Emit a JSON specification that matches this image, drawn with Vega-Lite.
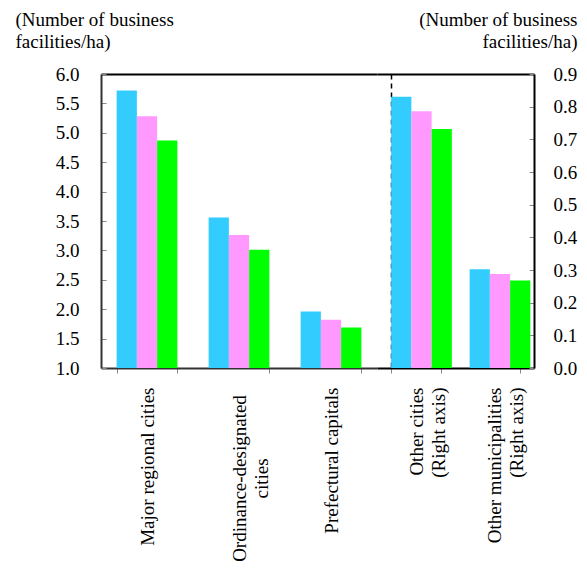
{
  "$schema": "https://vega.github.io/schema/vega-lite/v6.json",
  "padding": {"left": 15, "top": 10, "right": 5, "bottom": 0},
  "background": "white",
  "spacing": 0,
  "bounds": "flush",
  "config": {
    "view": {"stroke": null},
    "font": "Liberation Serif",
    "axis": {"labelFont": "Liberation Serif", "titleFont": "Liberation Serif", "labelColor": "black", "titleColor": "black"}
  },
  "datasets": {
    "left": [
      {"category": "Major regional cities", "series": "Series 1", "value": 5.72},
      {"category": "Major regional cities", "series": "Series 2", "value": 5.28},
      {"category": "Major regional cities", "series": "Series 3", "value": 4.87},
      {"category": "Ordinance-designated|cities", "series": "Series 1", "value": 3.56},
      {"category": "Ordinance-designated|cities", "series": "Series 2", "value": 3.26},
      {"category": "Ordinance-designated|cities", "series": "Series 3", "value": 3.01},
      {"category": "Prefectural capitals", "series": "Series 1", "value": 1.96},
      {"category": "Prefectural capitals", "series": "Series 2", "value": 1.82},
      {"category": "Prefectural capitals", "series": "Series 3", "value": 1.69}
    ],
    "right": [
      {"category": "Other cities|(Right axis)", "series": "Series 1", "value": 0.83},
      {"category": "Other cities|(Right axis)", "series": "Series 2", "value": 0.786},
      {"category": "Other cities|(Right axis)", "series": "Series 3", "value": 0.732},
      {"category": "Other municipalities|(Right axis)", "series": "Series 1", "value": 0.302},
      {"category": "Other municipalities|(Right axis)", "series": "Series 2", "value": 0.288},
      {"category": "Other municipalities|(Right axis)", "series": "Series 3", "value": 0.268}
    ]
  },
  "hconcat": [
    {
      "width": 276,
      "height": 294,
      "data": {"name": "left"},
      "mark": {"type": "bar", "clip": true},
      "encoding": {
        "x": {
          "field": "category", "type": "nominal", "sort": null,
          "scale": {"paddingInner": 0.34, "paddingOuter": 0.17},
          "axis": {
            "orient": "bottom", "title": null, "labelAngle": -90,
            "labelExpr": "split(datum.label, '|')",
            "labelFontSize": 19, "labelLineHeight": 22, "labelLimit": 400,
            "labelAlign": {"condition": {"test": "datum.value == 'Ordinance-designated|cities'", "value": "center"}, "value": "right"},
            "labelBaseline": "middle",
            "labelPadding": {"condition": {"test": "datum.value == 'Ordinance-designated|cities'", "value": 105}, "value": 14},
            "tickBand": "extent", "tickSize": 5, "tickColor": "#888888",
            "domainColor": "#333333", "domainWidth": 2,
            "grid": false
          }
        },
        "xOffset": {"field": "series", "sort": null},
        "y": {
          "field": "value", "type": "quantitative",
          "scale": {"domain": [1, 6], "nice": false, "zero": false},
          "axis": {
            "orient": "left",
            "values": [1, 1.5, 2, 2.5, 3, 3.5, 4, 4.5, 5, 5.5, 6],
            "format": ".1f", "labelFontSize": 19,
            "tickSize": -5, "tickColor": "#888888", "labelPadding": 27,
            "domainColor": "#333333", "domainWidth": 2,
            "grid": true, "gridWidth": 2, "gridOpacity": 1,
            "gridColor": {"condition": {"test": "datum.value >= 5.99", "value": "black"}, "value": "transparent"},
            "title": ["(Number of business", "facilities/ha)"],
            "titleAngle": 0, "titleAlign": "left", "titleBaseline": "alphabetic",
            "titleX": -86, "titleY": -49, "titleFontSize": 19, "titleFontWeight": "normal", "titleLineHeight": 22
          }
        },
        "color": {
          "field": "series", "type": "nominal", "sort": null,
          "scale": {"domain": ["Series 1", "Series 2", "Series 3"], "range": ["#33CCFF", "#FF99FF", "#00FF00"]},
          "legend": null
        }
      }
    },
    {
      "width": 157,
      "height": 294,
      "data": {"name": "right"},
      "mark": {"type": "bar", "clip": true},
      "encoding": {
        "x": {
          "field": "category", "type": "nominal", "sort": null,
          "scale": {"paddingInner": 0.36, "paddingOuter": 0.18},
          "axis": {
            "orient": "bottom", "title": null, "labelAngle": -90,
            "labelExpr": "split(datum.label, '|')",
            "labelFontSize": 19, "labelLineHeight": 22, "labelLimit": 400,
            "labelAlign": "right", "labelBaseline": "middle",
            "labelPadding": 14,
            "tickBand": "extent", "tickSize": 5, "tickColor": "#888888",
            "domainColor": "black", "domainWidth": 2,
            "grid": true, "gridColor": "black", "gridWidth": 1.5, "gridDash": [5, 4],
            "gridOpacity": {"condition": {"test": "datum.extra", "value": 1}, "value": 0}
          }
        },
        "xOffset": {"field": "series", "sort": null},
        "y": {
          "field": "value", "type": "quantitative",
          "scale": {"domain": [0, 0.9], "nice": false},
          "axis": {
            "orient": "right",
            "values": [0, 0.1, 0.2, 0.3, 0.4, 0.5, 0.6, 0.7, 0.8, 0.9],
            "format": ".1f", "labelFontSize": 19,
            "tickSize": -5, "tickColor": "#888888", "labelPadding": 24,
            "domainColor": "black", "domainWidth": 2,
            "grid": true, "gridWidth": 2, "gridOpacity": 1,
            "gridColor": {"condition": {"test": "datum.value >= 0.89", "value": "black"}, "value": "transparent"},
            "title": ["(Number of business", "facilities/ha)"],
            "titleAngle": 0, "titleAlign": "right", "titleBaseline": "alphabetic",
            "titleX": 43, "titleY": -49, "titleFontSize": 19, "titleFontWeight": "normal", "titleLineHeight": 22
          }
        },
        "color": {
          "field": "series", "type": "nominal", "sort": null,
          "scale": {"domain": ["Series 1", "Series 2", "Series 3"], "range": ["#33CCFF", "#FF99FF", "#00FF00"]},
          "legend": null
        }
      }
    }
  ]
}
